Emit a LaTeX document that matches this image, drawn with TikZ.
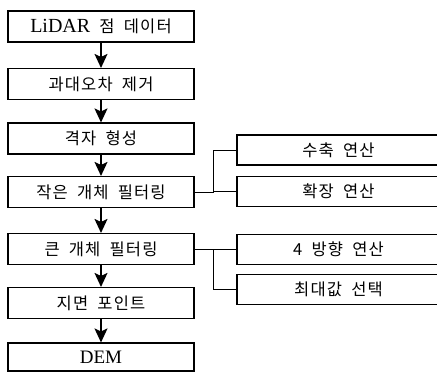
\documentclass[tikz,border=0pt]{standalone}
\usepackage{fontspec}
\setmainfont{Liberation Serif}
\newfontfamily\kr[LetterSpace=7,WordSpace=1.9]{Noto Sans CJK KR}
\usetikzlibrary{arrows.meta}
\begin{document}
\begin{tikzpicture}[x=1pt,y=-1pt,
  lbox/.style={draw,line width=1.1pt,minimum width=186pt,minimum height=31pt,inner sep=0pt,font=\kr\fontsize{16.5}{16.5}\selectfont},
  rbox/.style={draw,line width=1.1pt,minimum width=203pt,minimum height=30pt,inner sep=0pt,font=\kr\fontsize{16.5}{16.5}\selectfont},
  flow/.style={line width=1.4pt,-{Stealth[length=14pt,width=13pt,inset=3pt]}},
  link/.style={line width=0.9pt}]
\useasboundingbox (0,0) rectangle (437,372);
\node[lbox] (b1) at (101,26.5) {{\rmfamily\fontsize{20}{20}\selectfont LiDAR} 점 데이터};
\node[lbox] (b2) at (101,84) {과대오차 제거};
\node[lbox] (b3) at (101,138.5) {격자 형성};
\node[lbox] (b4) at (101,192) {작은 개체 필터링};
\node[lbox] (b5) at (101,249) {큰 개체 필터링};
\node[lbox] (b6) at (101,303) {지면 포인트};
\node[lbox,minimum height=28pt] (b7) at (101,357) {\rmfamily\fontsize{19}{19}\selectfont DEM};
\node[rbox] (r1) at (338.5,150) {수축 연산};
\node[rbox] (r2) at (338.5,191.5) {확장 연산};
\node[rbox] (r3) at (338.5,249.5) {4 방향 연산};
\node[rbox] (r4) at (338.5,289.5) {최대값 선택};
\draw[flow] (b1) -- (b2);
\draw[flow] (b2) -- (b3);
\draw[flow] (b3) -- (b4);
\draw[flow] (b4) -- (b5);
\draw[flow] (b5) -- (b6);
\draw[flow] (b6) -- (b7);
\coordinate (j1) at (213,192);
\coordinate (j2) at (213,249);
\draw[link] (b4.east) -- (j1);
\draw[link] (j1) |- (r1.west);
\draw[link] (j1) |- (r2.west);
\draw[link] (b5.east) -- (j2);
\draw[link] (j2) |- (r3.west);
\draw[link] (j2) |- (r4.west);
\end{tikzpicture}
\end{document}
